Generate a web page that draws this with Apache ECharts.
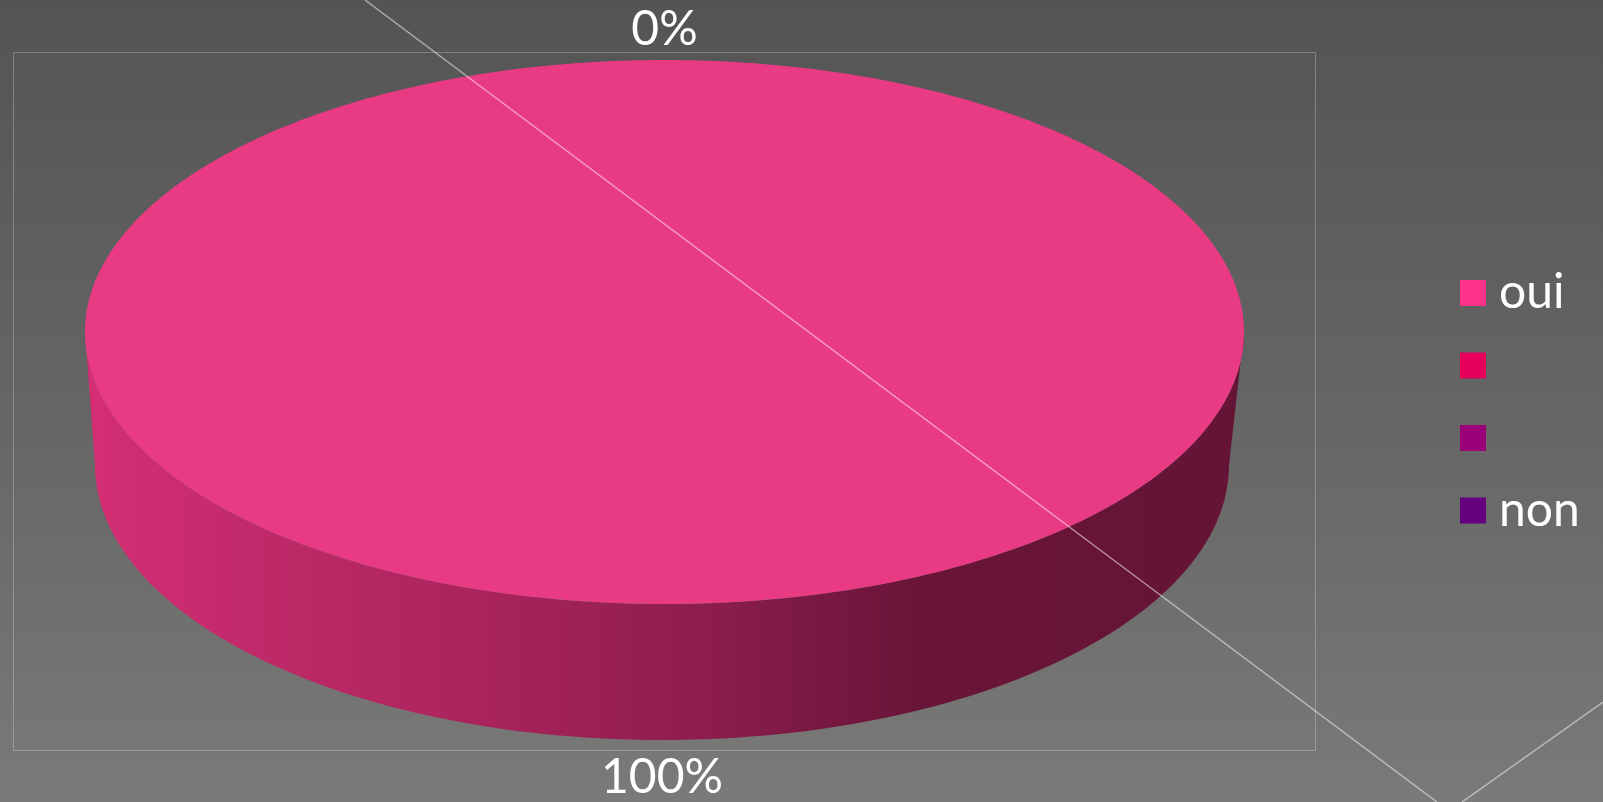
<!DOCTYPE html>
<html>
<head>
<meta charset="utf-8">
<script src="https://cdn.jsdelivr.net/npm/echarts@6/dist/echarts.min.js"></script>
<style>
html,body{margin:0;padding:0;background:#555;}
#chart{width:1603px;height:802px;}
</style>
</head>
<body>
<div id="chart"></div>
<script>
// ---- data ----
const categories = ['oui', '', '', 'non'];
const values = [100, null, null, 0];
const legendColors = ['#FC3388', '#E6005B', '#9C0079', '#65007E'];

// ---- layout (3D pie geometry, like pie center/radius) ----
const TOP = {cx: 664.5, cy: 332, rx: 579.5, ry: 272};
const BOT = {cx: 662, cy: 465, rx: 567, ry: 275};
const FONT = '48px Lato, "DejaVu Sans", sans-serif';

const total = values.reduce((s, v) => s + (v == null ? 0 : v), 0);

function hexToRgb(h) {
  h = h.replace('#', '');
  return [parseInt(h.substr(0,2),16), parseInt(h.substr(2,2),16), parseInt(h.substr(4,2),16)];
}
function shade(hex, k, add) {
  const c = hexToRgb(hex).map(v => Math.max(0, Math.min(255, Math.round(v * k + (add || 0)))));
  return 'rgb(' + c.join(',') + ')';
}
function pt(e, th) {
  return [e.cx + e.rx * Math.sin(th), e.cy - e.ry * Math.cos(th)];
}
function arc(e, a, b, n) {
  const pts = [];
  for (let k = 0; k <= n; k++) pts.push(pt(e, a + (b - a) * k / n));
  return pts;
}

// names shown in legend (blank categories keep distinct invisible names)
const seriesNames = categories.map((c, i) => c === '' ? '\u200b'.repeat(i) : c);

function makeRender(i) {
  return function (params, api) {
    const v = values[i];
    if (v == null) return {type: 'group', children: []};
    let start = 0;
    for (let j = 0; j < i; j++) start += values[j] == null ? 0 : values[j];
    const ts = start / total * Math.PI * 2;
    const te = (start + v) / total * Math.PI * 2;
    const base = legendColors[i];
    const children = [];
    if (te > ts) {
      // side wall (front half only)
      const a = Math.max(ts, Math.PI / 2), b = Math.min(te, Math.PI * 1.5);
      if (b > a) {
        const pts = arc(TOP, a, b, 120).concat(arc(BOT, b, a, 120));
        children.push({
          type: 'polygon',
          shape: {points: pts},
          style: {
            fill: {
              type: 'linear', x: 0, y: 0, x2: 1, y2: 0, global: false,
              colorStops: [
                {offset: 0, color: shade(base, 0.83, 4)},
                {offset: 0.18, color: shade(base, 0.73, 4)},
                {offset: 0.36, color: shade(base, 0.655, 2)},
                {offset: 0.53, color: shade(base, 0.565, 0)},
                {offset: 0.62, color: shade(base, 0.49, 0)},
                {offset: 0.72, color: shade(base, 0.415, 0)},
                {offset: 1, color: shade(base, 0.40, 0)}
              ]
            }
          }
        });
      }
      // top face
      let topPts = arc(TOP, ts, te, 360);
      if (te - ts < Math.PI * 2 - 1e-9) topPts = [[TOP.cx, TOP.cy]].concat(topPts);
      children.push({
        type: 'polygon',
        shape: {points: topPts},
        style: {fill: shade(base, 0.87, 14)}
      });
    }
    // data label
    const mid = (ts + te) / 2;
    const c = Math.cos(mid), s = Math.sin(mid);
    let lx, ly;
    if (c >= 0) {
      lx = TOP.cx + (TOP.rx + 30) * s;
      ly = TOP.cy - (TOP.ry + 30) * c;
    } else {
      lx = BOT.cx + (BOT.rx + 38) * s;
      ly = BOT.cy - (BOT.ry + 38) * c;
    }
    children.push({
      type: 'text',
      z2: 10,
      style: {
        text: Math.round(v / total * 100) + '%',
        x: lx, y: ly,
        fill: '#ffffff',
        font: FONT,
        align: 'center',
        verticalAlign: 'middle'
      }
    });
    return {type: 'group', children: children};
  };
}

const chart = echarts.init(document.getElementById('chart'), null, {renderer: 'canvas'});
const option = {
  animation: false,
  backgroundColor: {
    type: 'linear', x: 0, y: 0, x2: 0, y2: 1,
    colorStops: [
      {offset: 0, color: '#535453'},
      {offset: 0.5, color: '#646564'},
      {offset: 1, color: '#7a7a78'}
    ]
  },
  legend: {
    orient: 'vertical',
    left: 1460,
    top: 269,
    padding: 0,
    icon: 'rect',
    itemWidth: 26,
    itemHeight: 26,
    itemGap: 24.5,
    selectedMode: false,
    data: seriesNames,
    textStyle: {
      color: '#ffffff',
      fontSize: 48,
      fontFamily: 'Lato, "DejaVu Sans", sans-serif',
      lineHeight: 48,
      padding: [0, 0, 0, 8]
    }
  },
  graphic: [
    {
      type: 'rect', z: -1, silent: true,
      shape: {x: 13.5, y: 52.5, width: 1302, height: 698},
      style: {fill: null, stroke: 'rgba(255,255,255,0.25)', lineWidth: 1}
    },
    {
      type: 'line', z: 100, silent: true,
      shape: {x1: 365, y1: 0, x2: 1437, y2: 802},
      style: {stroke: 'rgba(255,255,255,0.5)', lineWidth: 1.5}
    },
    {
      type: 'line', z: 100, silent: true,
      shape: {x1: 1620, y1: 690, x2: 1462, y2: 802},
      style: {stroke: 'rgba(255,255,255,0.5)', lineWidth: 1.5}
    }
  ],
  series: categories.map((c, i) => ({
    type: 'custom',
    name: seriesNames[i],
    coordinateSystem: 'none',
    itemStyle: {color: legendColors[i]},
    data: [[i, values[i] == null ? 0 : values[i]]],
    renderItem: makeRender(i)
  }))
};
chart.setOption(option);
</script>
</body>
</html>
